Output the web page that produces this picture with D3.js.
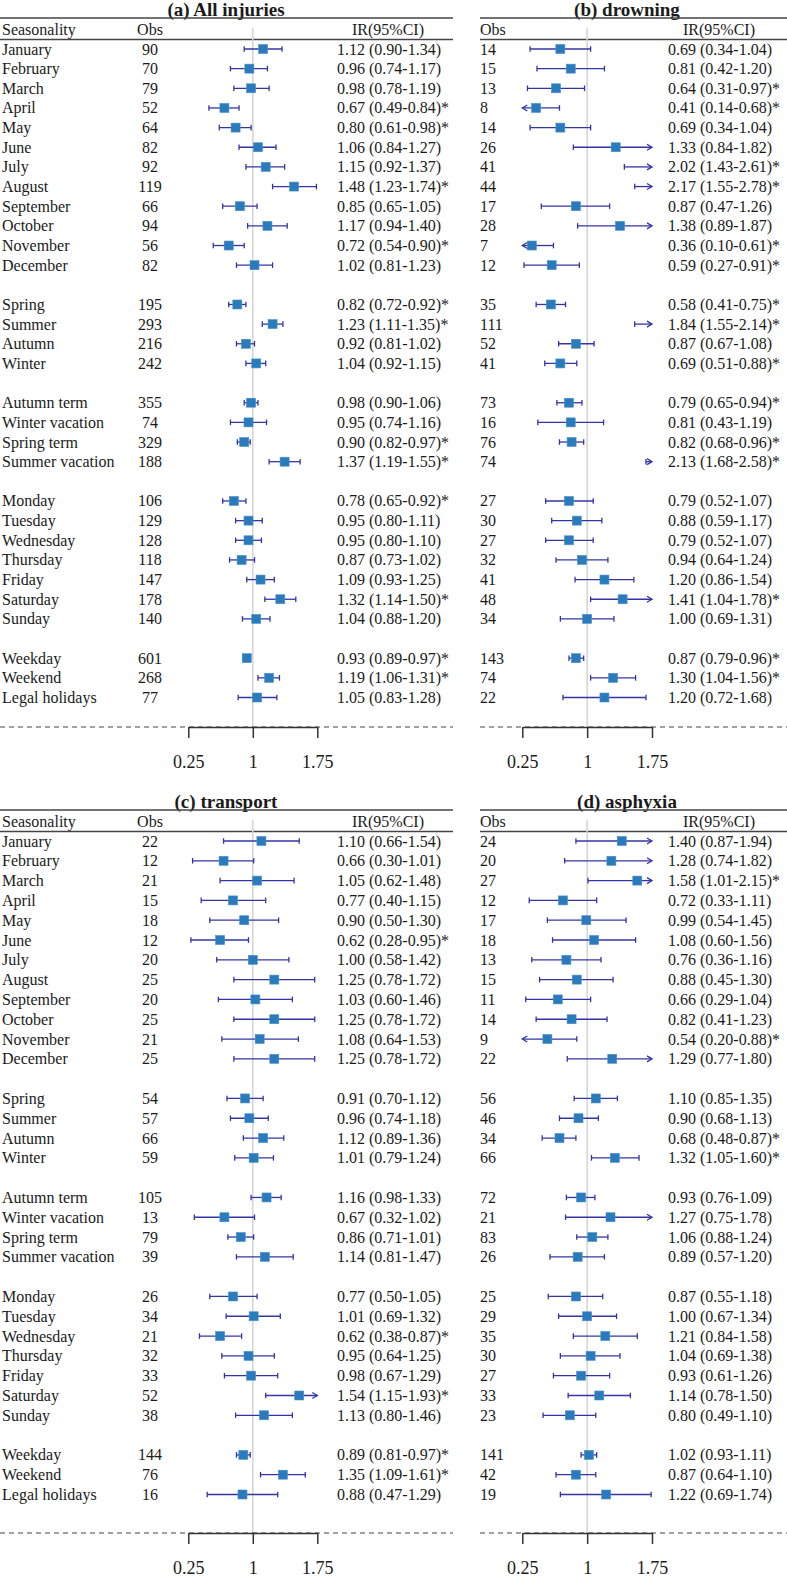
<!DOCTYPE html>
<html><head><meta charset="utf-8">
<script src="https://cdn.jsdelivr.net/npm/d3@7/dist/d3.min.js"></script>
<style>body{margin:0;background:#fff}svg{display:block}</style>
</head><body>
<svg id="chart" width="787" height="1577"></svg>
<script>
// ---- row labels (grouped) ----
const months = ["January","February","March","April","May","June","July","August","September","October","November","December"];
const seasons = ["Spring","Summer","Autumn","Winter"];
const terms = ["Autumn term","Winter vacation","Spring term","Summer vacation"];
const days = ["Monday","Tuesday","Wednesday","Thursday","Friday","Saturday","Sunday"];
const dayTypes = ["Weekday","Weekend","Legal holidays"];
const groups = [months, seasons, terms, days, dayTypes];

// ---- axis ticks ----
const tickValues = [0.25, 1, 1.75];
const axisDomain = [0.25, 1.75];

// ---- (a) All injuries ----
const injTitle = "(a) All injuries";
const injObs = [90,70,79,52,64,82,92,119,66,94,56,82, 195,293,216,242, 355,74,329,188, 106,129,128,118,147,178,140, 601,268,77];
const injIR  = [1.12,0.96,0.98,0.67,0.80,1.06,1.15,1.48,0.85,1.17,0.72,1.02, 0.82,1.23,0.92,1.04, 0.98,0.95,0.90,1.37, 0.78,0.95,0.95,0.87,1.09,1.32,1.04, 0.93,1.19,1.05];
const injLo  = [0.90,0.74,0.78,0.49,0.61,0.84,0.92,1.23,0.65,0.94,0.54,0.81, 0.72,1.11,0.81,0.92, 0.90,0.74,0.82,1.19, 0.65,0.80,0.80,0.73,0.93,1.14,0.88, 0.89,1.06,0.83];
const injHi  = [1.34,1.17,1.19,0.84,0.98,1.27,1.37,1.74,1.05,1.40,0.90,1.23, 0.92,1.35,1.02,1.15, 1.06,1.16,0.97,1.55, 0.92,1.11,1.10,1.02,1.25,1.50,1.20, 0.97,1.31,1.28];

// ---- (b) drowning ----
const drnTitle = "(b) drowning";
const drnObs = [14,15,13,8,14,26,41,44,17,28,7,12, 35,111,52,41, 73,16,76,74, 27,30,27,32,41,48,34, 143,74,22];
const drnIR  = [0.69,0.81,0.64,0.41,0.69,1.33,2.02,2.17,0.87,1.38,0.36,0.59, 0.58,1.84,0.87,0.69, 0.79,0.81,0.82,2.13, 0.79,0.88,0.79,0.94,1.20,1.41,1.00, 0.87,1.30,1.20];
const drnLo  = [0.34,0.42,0.31,0.14,0.34,0.84,1.43,1.55,0.47,0.89,0.10,0.27, 0.41,1.55,0.67,0.51, 0.65,0.43,0.68,1.68, 0.52,0.59,0.52,0.64,0.86,1.04,0.69, 0.79,1.04,0.72];
const drnHi  = [1.04,1.20,0.97,0.68,1.04,1.82,2.61,2.78,1.26,1.87,0.61,0.91, 0.75,2.14,1.08,0.88, 0.94,1.19,0.96,2.58, 1.07,1.17,1.07,1.24,1.54,1.78,1.31, 0.96,1.56,1.68];

// ---- (c) transport ----
const trnTitle = "(c) transport";
const trnObs = [22,12,21,15,18,12,20,25,20,25,21,25, 54,57,66,59, 105,13,79,39, 26,34,21,32,33,52,38, 144,76,16];
const trnIR  = [1.10,0.66,1.05,0.77,0.90,0.62,1.00,1.25,1.03,1.25,1.08,1.25, 0.91,0.96,1.12,1.01, 1.16,0.67,0.86,1.14, 0.77,1.01,0.62,0.95,0.98,1.54,1.13, 0.89,1.35,0.88];
const trnLo  = [0.66,0.30,0.62,0.40,0.50,0.28,0.58,0.78,0.60,0.78,0.64,0.78, 0.70,0.74,0.89,0.79, 0.98,0.32,0.71,0.81, 0.50,0.69,0.38,0.64,0.67,1.15,0.80, 0.81,1.09,0.47];
const trnHi  = [1.54,1.01,1.48,1.15,1.30,0.95,1.42,1.72,1.46,1.72,1.53,1.72, 1.12,1.18,1.36,1.24, 1.33,1.02,1.01,1.47, 1.05,1.32,0.87,1.25,1.29,1.93,1.46, 0.97,1.61,1.29];

// ---- (d) asphyxia ----
const asphTitle = "(d) asphyxia";
const asphObs = [24,20,27,12,17,18,13,15,11,14,9,22, 56,46,34,66, 72,21,83,26, 25,29,35,30,27,33,23, 141,42,19];
const asphIR  = [1.40,1.28,1.58,0.72,0.99,1.08,0.76,0.88,0.66,0.82,0.54,1.29, 1.10,0.90,0.68,1.32, 0.93,1.27,1.06,0.89, 0.87,1.00,1.21,1.04,0.93,1.14,0.80, 1.02,0.87,1.22];
const asphLo  = [0.87,0.74,1.01,0.33,0.54,0.60,0.36,0.45,0.29,0.41,0.20,0.77, 0.85,0.68,0.48,1.05, 0.76,0.75,0.88,0.57, 0.55,0.67,0.84,0.69,0.61,0.78,0.49, 0.93,0.64,0.69];
const asphHi  = [1.94,1.82,2.15,1.11,1.45,1.56,1.16,1.30,1.04,1.23,0.88,1.80, 1.35,1.13,0.87,1.60, 1.09,1.78,1.24,1.20, 1.18,1.34,1.58,1.38,1.26,1.50,1.10, 1.11,1.10,1.74];

// ---- build rows ----
const labels = [];
const slots = [];
groups.forEach((g, gi) => g.forEach(l => { slots.push(labels.length + gi); labels.push(l); }));

const svg = d3.select("#chart");
const FONT = "'Liberation Serif','Times New Roman',Times,serif";
const TXT = "#1a1a1a";
const WHISK = "#3434a6";
const BOX = "#2a7bbb";

const fmt = d3.format(".2f");

function drawPanel(cfg, title, obs, ir, lo, hi) {
  const g = svg.append("g").attr("transform", `translate(0,${cfg.dy})`);
  const x = d3.scaleLinear().domain(axisDomain).range(cfg.range);
  const y = d3.scaleLinear().domain([0, 33]).range([49, cfg.yLast]);
  const base = cfg.base;

  // title
  g.append("text").attr("x", cfg.titleX).attr("y", 15.5)
    .attr("text-anchor", "middle").attr("font-family", FONT).attr("font-weight", "bold")
    .attr("font-size", 19).attr("fill", TXT).text(title);

  // header lines
  g.append("line").attr("x1", cfg.x0).attr("x2", cfg.x1).attr("y1", 18).attr("y2", 18)
    .attr("stroke", "#444").attr("stroke-width", 1.4);
  g.append("line").attr("x1", cfg.x0).attr("x2", cfg.x1).attr("y1", 39.5).attr("y2", 39.5)
    .attr("stroke", "#444").attr("stroke-width", 1.4);

  const hdr = g.append("g").attr("font-family", FONT).attr("font-size", 16).attr("fill", TXT);
  if (cfg.showLabels) hdr.append("text").attr("x", 2).attr("y", 35).text("Seasonality");
  hdr.append("text").attr("x", cfg.obsX).attr("y", 35).attr("text-anchor", cfg.obsAnchor).text("Obs");
  hdr.append("text").attr("x", cfg.irX + 15).attr("y", 35).text("IR(95%CI)");

  // reference line at 1
  g.append("line").attr("x1", x(1)).attr("x2", x(1)).attr("y1", 28).attr("y2", base)
    .attr("stroke", "#d4d4d4").attr("stroke-width", 1.5);

  // dashed bottom line
  g.append("line").attr("x1", cfg.x0).attr("x2", cfg.x1).attr("y1", base).attr("y2", base)
    .attr("stroke", "#444").attr("stroke-width", 1).attr("stroke-dasharray", "5,4");

  // axis
  const ax = g.append("g").attr("transform", `translate(0,${base})`)
    .call(d3.axisBottom(x).tickValues(tickValues).tickSize(11).tickSizeOuter(0).tickPadding(17)
      .tickFormat(d => String(d)));
  ax.select(".domain").attr("stroke", "#333").attr("stroke-width", 1.5);
  ax.selectAll(".tick line").attr("stroke", "#333").attr("stroke-width", 1.5);
  ax.selectAll(".tick text").attr("font-family", FONT).attr("font-size", 18).attr("fill", TXT);

  // rows
  const rows = labels.map((l, i) => ({ label: l, slot: slots[i], obs: obs[i], ir: ir[i], lo: lo[i], hi: hi[i] }));
  const rg = g.append("g").selectAll("g").data(rows).join("g")
    .attr("transform", d => `translate(0,${y(d.slot)})`);

  const t = rg.append("g").attr("font-family", FONT).attr("font-size", 16).attr("fill", TXT);
  if (cfg.showLabels) t.append("text").attr("x", 2).attr("y", 5.5).text(d => d.label);
  t.append("text").attr("x", cfg.obsX).attr("y", 5.5).attr("text-anchor", cfg.obsAnchor).text(d => d.obs);
  t.append("text").attr("x", cfg.irX).attr("y", 5.5)
    .text(d => `${fmt(d.ir)} (${fmt(d.lo)}-${fmt(d.hi)})${(d.lo > 1 || d.hi < 1) ? "*" : ""}`);

  const [dmin, dmax] = axisDomain;
  rg.each(function(d) {
    const s = d3.select(this);
    const x1 = x(Math.max(d.lo, dmin)), x2 = x(Math.min(d.hi, dmax));
    s.append("line").attr("x1", x1).attr("x2", x2).attr("y1", 0).attr("y2", 0)
      .attr("stroke", WHISK).attr("stroke-width", 1.3);
    if (d.lo < dmin) {
      s.append("path").attr("d", `M${x1 + 5},-3 L${x1},0 L${x1 + 5},3`).attr("fill", "none")
        .attr("stroke", WHISK).attr("stroke-width", 1.3);
    } else {
      s.append("line").attr("x1", x1).attr("x2", x1).attr("y1", -2.8).attr("y2", 2.8)
        .attr("stroke", WHISK).attr("stroke-width", 1.3);
    }
    if (d.hi > dmax) {
      s.append("path").attr("d", `M${x2 - 5},-3 L${x2},0 L${x2 - 5},3`).attr("fill", "none")
        .attr("stroke", WHISK).attr("stroke-width", 1.3);
    } else {
      s.append("line").attr("x1", x2).attr("x2", x2).attr("y1", -2.8).attr("y2", 2.8)
        .attr("stroke", WHISK).attr("stroke-width", 1.3);
    }
    if (d.ir >= dmin && d.ir <= dmax) {
      s.append("rect").attr("x", x(d.ir) - 4.5).attr("y", -4.5).attr("width", 9).attr("height", 9)
        .attr("fill", BOX).attr("stroke", "#4a90c8").attr("stroke-width", 0.6);
    }
  });
}

const leftCol = { x0: 0, x1: 453, obsX: 150, obsAnchor: "middle", range: [188.3, 317.3], irX: 337, titleX: 226, showLabels: true };
const rightCol = { x0: 480, x1: 787, obsX: 480, obsAnchor: "start", range: [522.3, 652], irX: 668, titleX: 627, showLabels: false };
const topRow = { dy: 0, yLast: 697.5, base: 727 };
const bottomRow = { dy: 792, yLast: 702.5, base: 741 };

drawPanel({ ...leftCol, ...topRow }, injTitle, injObs, injIR, injLo, injHi);
drawPanel({ ...rightCol, ...topRow }, drnTitle, drnObs, drnIR, drnLo, drnHi);
drawPanel({ ...leftCol, ...bottomRow }, trnTitle, trnObs, trnIR, trnLo, trnHi);
drawPanel({ ...rightCol, ...bottomRow }, asphTitle, asphObs, asphIR, asphLo, asphHi);
</script>
</body></html>
